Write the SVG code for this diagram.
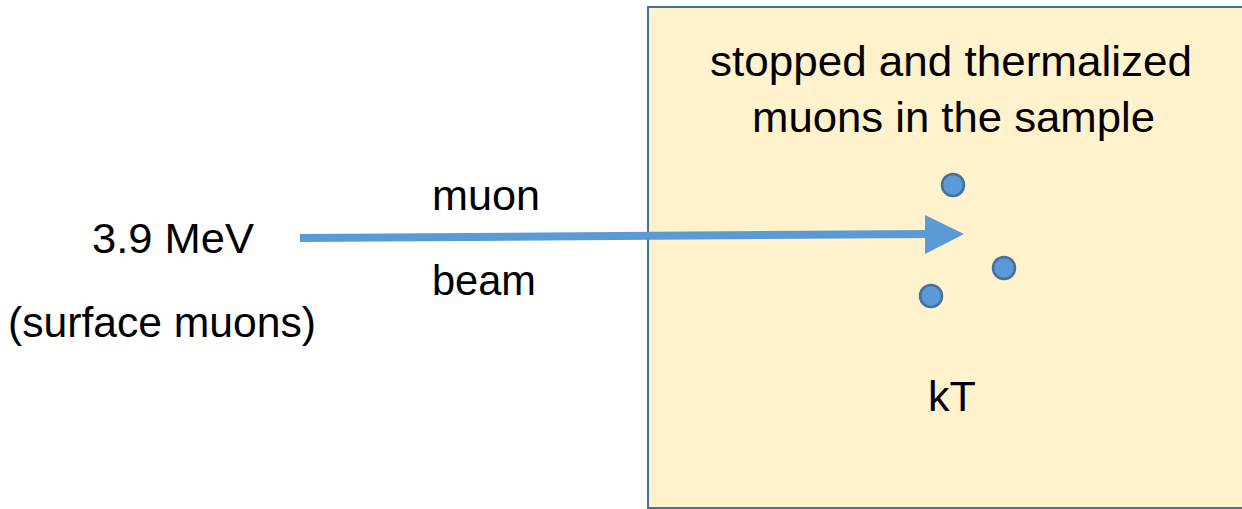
<svg xmlns="http://www.w3.org/2000/svg" width="1242" height="509" viewBox="0 0 1242 509">
  <style>
    .lbl { font-family: "Liberation Sans", Arial, sans-serif; font-size: 43px; fill: #000; }
    .muon { fill: #5B9BD5; stroke: #41719C; stroke-width: 2.5; }
  </style>
  <rect width="1242" height="509" fill="#ffffff"/>

  <!-- sample block -->
  <g id="sample">
    <rect x="648" y="7" width="600" height="501" fill="#FFF2CC" stroke="#41719C" stroke-width="2"/>
    <text class="lbl" x="710" y="76" textLength="482" lengthAdjust="spacingAndGlyphs">stopped and thermalized</text>
    <text class="lbl" x="752" y="132" textLength="403" lengthAdjust="spacingAndGlyphs">muons in the sample</text>
    <text class="lbl" x="952" y="411" text-anchor="middle">kT</text>
  </g>

  <!-- thermalized muons -->
  <g id="muon-1"><circle class="muon" cx="953" cy="185" r="11"/></g>
  <g id="muon-2"><circle class="muon" cx="1004" cy="268" r="11"/></g>
  <g id="muon-3"><circle class="muon" cx="931" cy="296" r="11"/></g>

  <!-- source labels -->
  <g id="source">
    <text class="lbl" x="92" y="253" textLength="162" lengthAdjust="spacingAndGlyphs">3.9 MeV</text>
    <text class="lbl" x="8" y="337" textLength="308" lengthAdjust="spacingAndGlyphs">(surface muons)</text>
  </g>

  <!-- beam arrow -->
  <g id="connectors">
    <line x1="300" y1="238" x2="927" y2="234" stroke="#5B9BD5" stroke-width="8"/>
    <polygon points="925,215 964,234 925,254" fill="#5B9BD5"/>
    <text class="lbl" x="432" y="210" textLength="108" lengthAdjust="spacingAndGlyphs">muon</text>
    <text class="lbl" x="432" y="295" textLength="104" lengthAdjust="spacingAndGlyphs">beam</text>
  </g>
</svg>
